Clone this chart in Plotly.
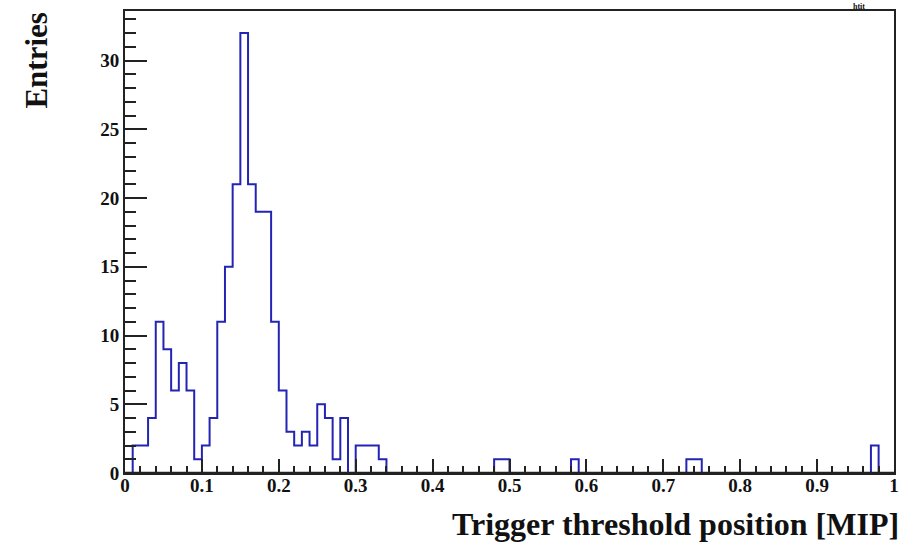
import numpy as np
import plotly.graph_objects as go

# Histogram: 100 bins of width 0.01 over [0, 1]
bin_width = 0.01
x_min, x_max = 0.0, 1.0
counts = [
    0, 2, 2, 4, 11, 9, 6, 8, 6, 1,        # 0.00 - 0.10
    2, 4, 11, 15, 21, 32, 21, 19, 19, 11,  # 0.10 - 0.20
    6, 3, 2, 3, 2, 5, 4, 1, 4, 0,          # 0.20 - 0.30
    2, 2, 2, 1, 0, 0, 0, 0, 0, 0,          # 0.30 - 0.40
    0, 0, 0, 0, 0, 0, 0, 0, 1, 1,          # 0.40 - 0.50
    0, 0, 0, 0, 0, 0, 0, 0, 1, 0,          # 0.50 - 0.60
    0, 0, 0, 0, 0, 0, 0, 0, 0, 0,          # 0.60 - 0.70
    0, 0, 0, 1, 1, 0, 0, 0, 0, 0,          # 0.70 - 0.80
    0, 0, 0, 0, 0, 0, 0, 0, 0, 0,          # 0.80 - 0.90
    0, 0, 0, 0, 0, 0, 0, 2, 0, 0,          # 0.90 - 1.00
]
x_title = "Trigger threshold position [MIP]"
y_title = "Entries"
hist_title = "htit"

edges = np.linspace(x_min, x_max, len(counts) + 1)
y_step = list(counts) + [0]
y_max = max(counts) * 1.05

font_family = "Liberation Serif, Times New Roman, serif"
axis_color = "#222222"
line_color = "#2424b4"

fig = go.Figure()
fig.add_trace(go.Scatter(
    x=edges, y=y_step, mode="lines", line_shape="hv",
    line=dict(color=line_color, width=2), showlegend=False,
    hoverinfo="skip",
))

fig.update_layout(
    width=908, height=542,
    margin=dict(l=125, r=9, t=10, b=69),
    paper_bgcolor="white", plot_bgcolor="white",
    font=dict(family=font_family, color="#111111"),
    showlegend=False,
)
fig.update_xaxes(
    range=[x_min, x_max], dtick=0.1, tick0=0,
    showgrid=False, zeroline=False, layer="above traces",
    showline=True, linecolor=axis_color, linewidth=2, mirror=True,
    ticks="inside", ticklen=14, tickwidth=1.5, tickcolor=axis_color,
    ticklabelstandoff=-6,
    minor=dict(dtick=0.02, ticks="inside", ticklen=7, tickwidth=1.5,
               tickcolor=axis_color, showgrid=False),
    tickfont=dict(family=font_family, size=19, weight="bold", color="#111111"),
)
fig.update_yaxes(
    range=[0, y_max], dtick=5, tick0=0,
    showgrid=False, zeroline=False, layer="above traces",
    showline=True, linecolor=axis_color, linewidth=2, mirror=True,
    ticks="inside", ticklen=22, tickwidth=1.5, tickcolor=axis_color,
    minor=dict(dtick=1, ticks="inside", ticklen=11, tickwidth=1.5,
               tickcolor=axis_color, showgrid=False),
    tickfont=dict(family=font_family, size=19, weight="bold", color="#111111"),
)

# baseline drawn over the histogram outline (as ROOT's frame does)
fig.add_shape(
    type="line", xref="paper", yref="paper", x0=0, x1=1, y0=0, y1=0,
    line=dict(color=axis_color, width=2.5), layer="above",
)

fig.add_annotation(
    text="<b>" + x_title + "</b>", xref="paper", yref="paper",
    x=1.0, y=-0.110, xanchor="right", yanchor="middle", showarrow=False,
    xshift=7,
    font=dict(family=font_family, size=32, color="#111111"),
)
fig.add_annotation(
    text="<b>" + y_title + "</b>", xref="paper", yref="paper",
    x=-0.1163, y=1.0, xanchor="center", yanchor="top", textangle=-90,
    showarrow=False,
    font=dict(family=font_family, size=31, color="#111111"),
)
fig.add_annotation(
    text="<b>" + hist_title + "</b>", xref="paper", yref="paper",
    x=0.955, y=1.0216, xanchor="center", yanchor="top", showarrow=False,
    font=dict(family=font_family, size=8, color="#111111"),
    borderpad=0,
)

fig.write_html("out.html")
